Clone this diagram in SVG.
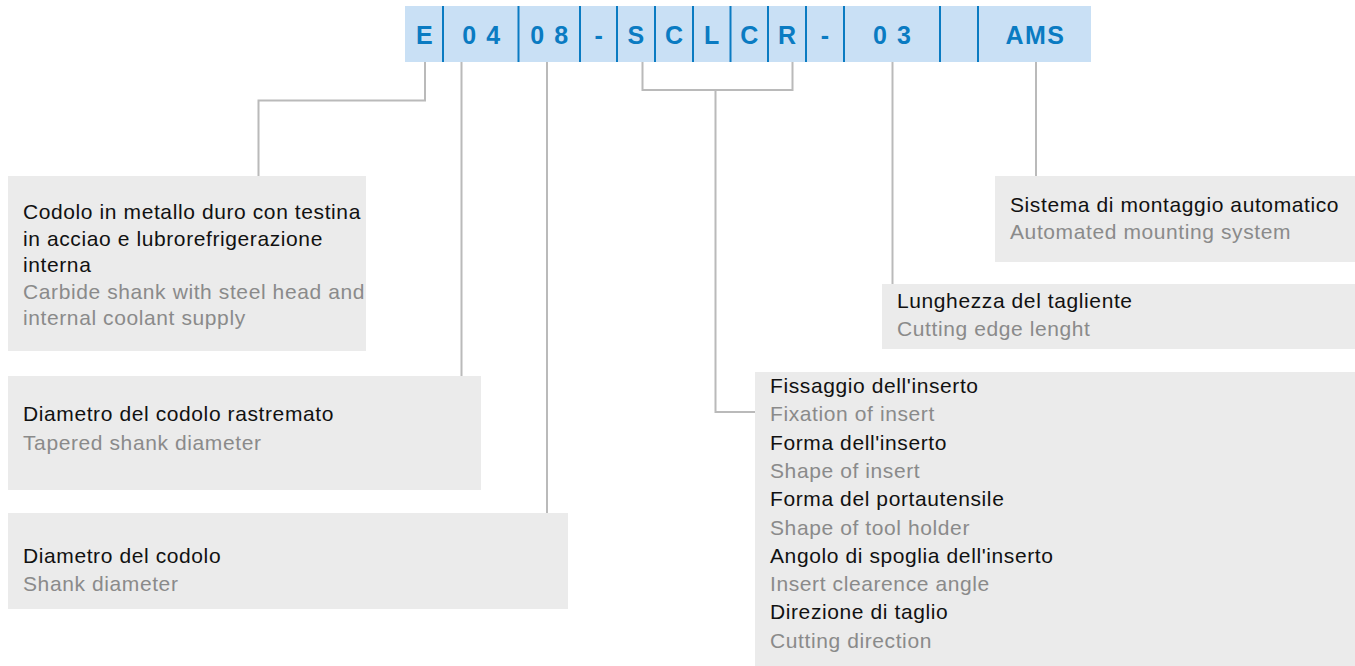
<svg xmlns="http://www.w3.org/2000/svg" width="1355" height="666" viewBox="0 0 1355 666">
<style>
.bar{fill:#c9e0f5}
.sep{stroke:#0a7bc2;stroke-width:2}
.code{font-family:"Liberation Sans",Arial,sans-serif;font-weight:bold;font-size:25px;fill:#0a7bc2;text-anchor:middle;letter-spacing:1.5px}
.box{fill:#ebebeb}
.it{font-family:"Liberation Sans",Arial,sans-serif;font-size:21px;letter-spacing:0.6px;fill:#111}
.en{font-family:"Liberation Sans",Arial,sans-serif;font-size:21px;letter-spacing:0.6px;fill:#8a8a8a}
.con{fill:none;stroke:#bababa;stroke-width:2}
</style>
<rect width="1355" height="666" fill="#fff"/>
<g id="code">
<rect class="bar" x="405" y="6" width="686" height="56"/>
<g class="sep">
<line x1="443" y1="6" x2="443" y2="62"/>
<line x1="518.5" y1="6" x2="518.5" y2="62"/>
<line x1="580" y1="6" x2="580" y2="62"/>
<line x1="617" y1="6" x2="617" y2="62"/>
<line x1="655" y1="6" x2="655" y2="62"/>
<line x1="693" y1="6" x2="693" y2="62"/>
<line x1="730.5" y1="6" x2="730.5" y2="62"/>
<line x1="768" y1="6" x2="768" y2="62"/>
<line x1="806" y1="6" x2="806" y2="62"/>
<line x1="844" y1="6" x2="844" y2="62"/>
<line x1="940" y1="6" x2="940" y2="62"/>
<line x1="978" y1="6" x2="978" y2="62"/>
</g>
<text class="code" x="425" y="44">E</text>
<text class="code" x="482" y="44">0 4</text>
<text class="code" x="550" y="44">0 8</text>
<text class="code" x="599.5" y="44">-</text>
<text class="code" x="636.7" y="44">S</text>
<text class="code" x="674.7" y="44">C</text>
<text class="code" x="712.5" y="44">L</text>
<text class="code" x="750" y="44">C</text>
<text class="code" x="787.7" y="44">R</text>
<text class="code" x="825.7" y="44">-</text>
<text class="code" x="892.7" y="44">0 3</text>
<text class="code" x="1035.5" y="44">AMS</text>
</g>
<g id="connectors">
<polyline class="con" points="425,62 425,100.5 258.5,100.5 258.5,176"/>
<line class="con" x1="461.5" y1="62" x2="461.5" y2="376"/>
<line class="con" x1="547" y1="62" x2="547" y2="513"/>
<polyline class="con" points="642.5,62 642.5,90 792.5,90 792.5,62"/>
<polyline class="con" points="715.5,90 715.5,412 755,412"/>
<line class="con" x1="892.5" y1="62" x2="892.5" y2="284"/>
<line class="con" x1="1036" y1="62" x2="1036" y2="176"/>
</g>
<g id="n1">
<rect class="box" x="8" y="176" width="358" height="175"/>
<text class="it" x="23" y="219">Codolo in metallo duro con testina</text>
<text class="it" x="23" y="245.5">in acciao e lubrorefrigerazione</text>
<text class="it" x="23" y="272">interna</text>
<text class="en" x="23" y="298.5">Carbide shank with steel head and</text>
<text class="en" x="23" y="325">internal coolant supply</text>
</g>
<g id="n2">
<rect class="box" x="8" y="376" width="473" height="114"/>
<text class="it" x="23" y="421">Diametro del codolo rastremato</text>
<text class="en" x="23" y="450">Tapered shank diameter</text>
</g>
<g id="n3">
<rect class="box" x="8" y="513" width="560" height="96"/>
<text class="it" x="23" y="563">Diametro del codolo</text>
<text class="en" x="23" y="591">Shank diameter</text>
</g>
<g id="n4">
<rect class="box" x="755" y="372" width="600" height="294"/>
<text class="it" x="770" y="393">Fissaggio dell'inserto</text>
<text class="en" x="770" y="421.3">Fixation of insert</text>
<text class="it" x="770" y="449.6">Forma dell'inserto</text>
<text class="en" x="770" y="477.9">Shape of insert</text>
<text class="it" x="770" y="506.2">Forma del portautensile</text>
<text class="en" x="770" y="534.5">Shape of tool holder</text>
<text class="it" x="770" y="562.8">Angolo di spoglia dell'inserto</text>
<text class="en" x="770" y="591.1">Insert clearence angle</text>
<text class="it" x="770" y="619.4">Direzione di taglio</text>
<text class="en" x="770" y="647.7">Cutting direction</text>
</g>
<g id="n5">
<rect class="box" x="882" y="284" width="473" height="65"/>
<text class="it" x="897" y="308">Lunghezza del tagliente</text>
<text class="en" x="897" y="336">Cutting edge lenght</text>
</g>
<g id="n6">
<rect class="box" x="995" y="176" width="360" height="86"/>
<text class="it" x="1010" y="211.5">Sistema di montaggio automatico</text>
<text class="en" x="1010" y="238.5">Automated mounting system</text>
</g>
</svg>
